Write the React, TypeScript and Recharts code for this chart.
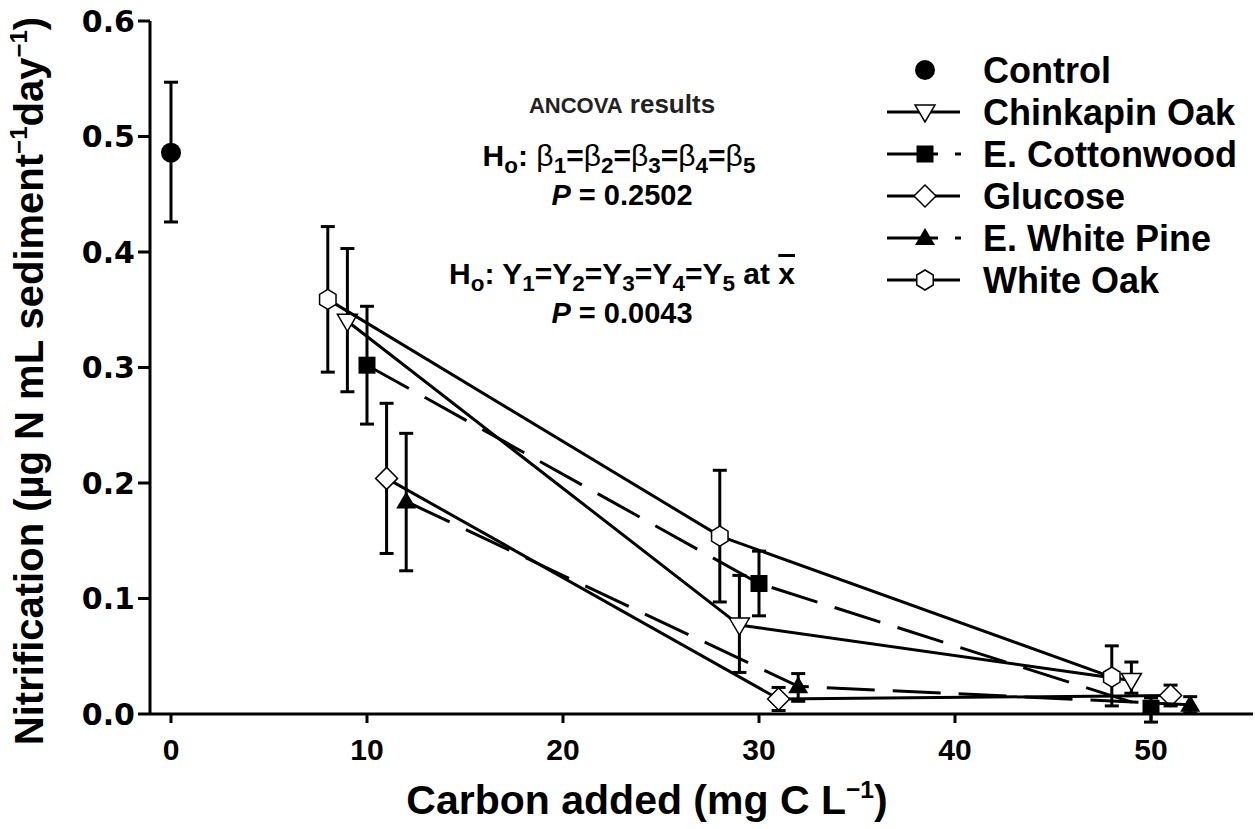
import React from "react";
import { ScatterChart, Scatter, XAxis, YAxis, ErrorBar, Legend } from "recharts";

// axis ticks
const carbonTicks = [0, 10, 20, 30, 40, 50];
const nitrTicks = [0, 0.1, 0.2, 0.3, 0.4, 0.5, 0.6];

// carbon added (mg C/L) per treatment, offset a little so points don't overlap
const controlX = [0];
const chinkapinX = [9, 29, 49];
const cottonwoodX = [10, 30, 50];
const glucoseX = [11, 31, 51];
const whitePineX = [12, 32, 52];
const whiteOakX = [8, 28, 48];

// nitrification means and error bar ends
const controlMean = [0.486];
const controlLow = [0.426];
const controlHigh = [0.547];

const chinkapinMean = [0.34, 0.077, 0.029];
const chinkapinLow = [0.279, 0.036, 0.018];
const chinkapinHigh = [0.403, 0.12, 0.045];

const cottonwoodMean = [0.302, 0.113, 0.005];
const cottonwoodLow = [0.251, 0.085, -0.007];
const cottonwoodHigh = [0.353, 0.141, 0.014];

const glucoseMean = [0.204, 0.013, 0.016];
const glucoseLow = [0.139, 0.003, 0.007];
const glucoseHigh = [0.269, 0.023, 0.025];

const whitePineMean = [0.184, 0.024, 0.008];
const whitePineLow = [0.124, 0.011, 0.001];
const whitePineHigh = [0.243, 0.035, 0.015];

const whiteOakMean = [0.359, 0.154, 0.032];
const whiteOakLow = [0.296, 0.097, 0.007];
const whiteOakHigh = [0.422, 0.211, 0.059];

type Kind = "circle" | "triDown" | "square" | "diamond" | "triUp" | "hexagon";

const toPoints = (xs: number[], mean: number[], low: number[], high: number[]) =>
  xs.map((x, i) => ({ x, y: mean[i], err: [mean[i] - low[i], high[i] - mean[i]] }));

const series: { name: string; kind: Kind; dashed: boolean; line: boolean; data: any[] }[] = [
  { name: "Control", kind: "circle", dashed: false, line: false, data: toPoints(controlX, controlMean, controlLow, controlHigh) },
  { name: "Chinkapin Oak", kind: "triDown", dashed: false, line: true, data: toPoints(chinkapinX, chinkapinMean, chinkapinLow, chinkapinHigh) },
  { name: "E. Cottonwood", kind: "square", dashed: true, line: true, data: toPoints(cottonwoodX, cottonwoodMean, cottonwoodLow, cottonwoodHigh) },
  { name: "Glucose", kind: "diamond", dashed: false, line: true, data: toPoints(glucoseX, glucoseMean, glucoseLow, glucoseHigh) },
  { name: "E. White Pine", kind: "triUp", dashed: true, line: true, data: toPoints(whitePineX, whitePineMean, whitePineLow, whitePineHigh) },
  { name: "White Oak", kind: "hexagon", dashed: false, line: true, data: toPoints(whiteOakX, whiteOakMean, whiteOakLow, whiteOakHigh) },
];

const SANS = "'Liberation Sans', Arial, Helvetica, sans-serif";

function Marker({ kind, cx, cy }: { kind: Kind; cx: number; cy: number }) {
  const open = { fill: "#fff", stroke: "#000", strokeWidth: 1.5 };
  switch (kind) {
    case "circle":
      return <circle cx={cx} cy={cy} r={10} fill="#000" />;
    case "triDown":
      return <polygon points={`${cx - 10},${cy - 7} ${cx + 10},${cy - 7} ${cx},${cy + 10}`} {...open} />;
    case "square":
      return <rect x={cx - 8.5} y={cy - 8.5} width={17} height={17} fill="#000" />;
    case "diamond":
      return <polygon points={`${cx},${cy - 11} ${cx + 11},${cy} ${cx},${cy + 11} ${cx - 11},${cy}`} {...open} />;
    case "triUp":
      return <polygon points={`${cx},${cy - 10} ${cx + 10},${cy + 7} ${cx - 10},${cy + 7}`} fill="#000" />;
    case "hexagon": {
      const pts = [0, 60, 120, 180, 240, 300]
        .map((a) => {
          const r = (a * Math.PI) / 180;
          return `${cx + 9.5 * Math.sin(r)},${cy - 10 * Math.cos(r)}`;
        })
        .join(" ");
      return <polygon points={pts} {...open} />;
    }
  }
  return null;
}

const Sub = ({ children }: { children: React.ReactNode }) => (
  <span style={{ fontSize: "0.75em", verticalAlign: "-0.3em", lineHeight: 0 }}>{children}</span>
);
const Sup = ({ children }: { children: React.ReactNode }) => (
  <span style={{ fontSize: "0.6em", verticalAlign: "0.65em", lineHeight: 0 }}>{children}</span>
);
const Beta = () => <span style={{ fontWeight: "normal" }}>β</span>;

const renderLegend = () => (
  <svg width={375} height={260}>
    {series.map((s, i) => {
      const y = 22 + i * 42;
      return (
        <g key={s.name}>
          {s.line && !s.dashed && <line x1={7} x2={80} y1={y} y2={y} stroke="#000" strokeWidth={3} />}
          {s.line && s.dashed && (
            <>
              <line x1={7} x2={58} y1={y} y2={y} stroke="#000" strokeWidth={3} />
              <line x1={75} x2={81} y1={y} y2={y} stroke="#000" strokeWidth={3} />
            </>
          )}
          <Marker kind={s.kind} cx={45} cy={y} />
          <text x={103} y={y} dy="0.36em" fontFamily={SANS} fontWeight="bold" fontSize={36} fill="#000">
            {s.name}
          </text>
        </g>
      );
    })}
  </svg>
);

const axisStroke = { stroke: "#000", strokeWidth: 3 };

export default function App() {
  return (
    <div style={{ position: "relative", width: 1255, height: 829, background: "#fff", fontFamily: SANS, color: "#000" }}>
      <style>{"body{margin:0}"}</style>
      <ScatterChart width={1255} height={829} margin={{ top: 21, right: 2, bottom: 0, left: 0 }}>
        <XAxis
          type="number"
          dataKey="x"
          domain={[-1.071, 55.204]}
          ticks={carbonTicks}
          height={115}
          tickSize={9}
          tickMargin={16}
          axisLine={axisStroke}
          tickLine={axisStroke}
          tick={{ fontFamily: "'Liberation Sans Narrow', 'Liberation Sans', Arial, sans-serif", fontWeight: "bold", fontSize: 30, fill: "#000" }}
        />
        <XAxis
          xAxisId="top"
          orientation="top"
          mirror
          type="number"
          dataKey="x"
          domain={[-1.071, 55.204]}
          ticks={carbonTicks}
          height={0}
          tickSize={8}
          tick={false}
          axisLine={axisStroke}
          tickLine={axisStroke}
        />
        <YAxis
          type="number"
          dataKey="y"
          domain={[0, 0.6]}
          allowDataOverflow
          ticks={nitrTicks}
          width={150}
          tickSize={12}
          tickMargin={3}
          tickFormatter={(v: number) => v.toFixed(1)}
          axisLine={axisStroke}
          tickLine={axisStroke}
          tick={{ fontFamily: "'DejaVu Sans', sans-serif", fontWeight: "bold", fontSize: 30, fill: "#000" }}
        />
        <YAxis
          yAxisId="right"
          orientation="right"
          mirror
          type="number"
          dataKey="y"
          domain={[0, 0.6]}
          ticks={nitrTicks}
          width={0}
          tickSize={8}
          tick={false}
          axisLine={axisStroke}
          tickLine={axisStroke}
        />
        <Legend
          content={renderLegend}
          layout="vertical"
          align="center"
          verticalAlign="middle"
          wrapperStyle={{ top: 48, left: 880, width: 375 }}
        />
        {series.map((s) => (
          <Scatter
            key={s.name}
            name={s.name}
            data={s.data}
            isAnimationActive={false}
            fill="#000"
            line={s.line ? { stroke: "#000", strokeWidth: 3, strokeDasharray: s.dashed ? "48 18" : undefined } : false}
            shape={(p: any) => <Marker kind={s.kind} cx={p.cx} cy={p.cy} />}
          >
            <ErrorBar dataKey="err" direction="y" width={7} stroke="#000" strokeWidth={3} />
          </Scatter>
        ))}
      </ScatterChart>

      {/* ANCOVA annotation */}
      <div style={{ position: "absolute", left: 622, top: 104, transform: "translate(-50%,-50%)", whiteSpace: "nowrap", fontWeight: "bold", fontSize: 26, color: "#222" }}>
        <span style={{ fontSize: 22 }}>ANCOVA</span> results
      </div>
      <div style={{ position: "absolute", left: 619, top: 156, transform: "translate(-50%,-50%)", whiteSpace: "nowrap", fontWeight: "bold", fontSize: 30 }}>
        H<Sub>o</Sub>: <Beta /><Sub>1</Sub>=<Beta /><Sub>2</Sub>=<Beta /><Sub>3</Sub>=<Beta /><Sub>4</Sub>=<Beta /><Sub>5</Sub>
      </div>
      <div style={{ position: "absolute", left: 622, top: 195, transform: "translate(-50%,-50%)", whiteSpace: "nowrap", fontWeight: "bold", fontSize: 29 }}>
        <i>P</i> = 0.2502
      </div>
      <div style={{ position: "absolute", left: 622, top: 274, transform: "translate(-50%,-50%)", whiteSpace: "nowrap", fontWeight: "bold", fontSize: 30 }}>
        H<Sub>o</Sub>: Y<Sub>1</Sub>=Y<Sub>2</Sub>=Y<Sub>3</Sub>=Y<Sub>4</Sub>=Y<Sub>5</Sub> at{" "}
        <span style={{ textDecoration: "overline" }}>x</span>
      </div>
      <div style={{ position: "absolute", left: 622, top: 313, transform: "translate(-50%,-50%)", whiteSpace: "nowrap", fontWeight: "bold", fontSize: 29 }}>
        <i>P</i> = 0.0043
      </div>

      {/* axis titles */}
      <div style={{ position: "absolute", left: 647, top: 800, transform: "translate(-50%,-50%)", whiteSpace: "nowrap", fontWeight: "bold", fontSize: 41 }}>
        Carbon added (mg C L<Sup>−1</Sup>)
      </div>
      <div style={{ position: "absolute", left: 29, top: 381, transform: "translate(-50%,-50%) rotate(-90deg)", whiteSpace: "nowrap", fontWeight: "bold", fontSize: 40 }}>
        Nitrification (µg N mL sediment<Sup>−1</Sup>day<Sup>−1</Sup>)
      </div>
    </div>
  );
}
